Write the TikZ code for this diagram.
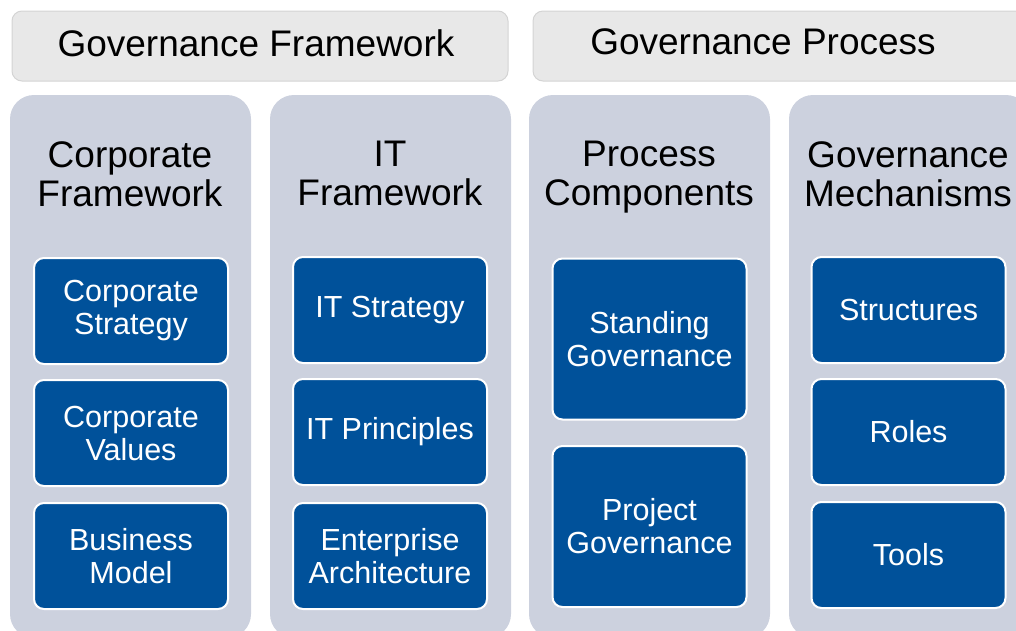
\documentclass[tikz,border=0pt]{standalone}
\usepackage{fontspec}
\setmainfont{Liberation Sans}
\definecolor{headgray}{HTML}{E8E8E8}
\definecolor{headline}{HTML}{D4D4D4}
\definecolor{colgray}{HTML}{CCD1DE}
\definecolor{itemblue}{HTML}{00519A}
\begin{document}
\begin{tikzpicture}[
				x=1pt,y=-1pt,
				headbox/.style={rectangle,rounded corners=10pt,draw=headline,fill=headgray,line width=1pt,minimum height=70pt},
				headlabel/.style={font=\fontsize{37}{40}\selectfont},
				colbox/.style={rectangle,rounded corners=24pt,fill=colgray,minimum width=241pt,minimum height=543pt},
				coltitle/.style={anchor=north,align=center,font=\fontsize{37}{39}\selectfont},
				itembox/.style={rectangle,rounded corners=10pt,draw=white,line width=2pt,fill=itemblue,text=white,
					minimum width=194pt,align=center,font=\fontsize{30.5}{33}\selectfont},
				small/.style={itembox,minimum height=106pt},
				tall/.style={itembox,minimum height=161pt},
				inner sep=0pt]
				\useasboundingbox (0,0) rectangle (1016,630);
				\clip (0,0) rectangle (1016,630);
				% header bars
				\node [headbox,minimum width=496pt]	(hfw)	at (260,46)		{};
					\node [headlabel]	(hfwlab)	at (256,43)		{Governance Framework};
				\node [headbox,minimum width=510pt]	(hpr)	at (788,46)		{};
					\node [headlabel]	(hprlab)	at (763,42)		{Governance Process};
				% columns
				\node [colbox]	(corp)	at (130.5,366.5)	{};
					\node [coltitle]	at (130,141)	{Corporate\\Framework};
				\node [colbox]	(it)	at (390.5,366.5)	{};
					\node [coltitle]	at (390,141)	{IT\\Framework};
				\node [colbox]	(proc)	at (649.5,366.5)	{};
					\node [coltitle]	at (649,141)	{Process\\Components};
				\node [colbox]	(mech)	at (909.5,366.5)	{};
					\node [coltitle]	at (908,141)	{Governance\\Mechanisms};
				% corporate framework
				\node [small]	(cstrat)	at (131,311)	{Corporate\\Strategy};
				\node [small]	(cval)		at (131,433)	{Corporate\\Values};
				\node [small]	(bmodel)	at (131,556)	{Business\\Model};
				% it framework
				\node [small]	(itstrat)	at (390,310)	{IT Strategy};
				\node [small]	(itprin)	at (390,432)	{IT Principles};
				\node [small]	(entarch)	at (390,556)	{Enterprise\\Architecture};
				% process components
				\node [tall]	(standgov)	at (649.5,339)	{Standing\\Governance};
				\node [tall]	(projgov)	at (649.5,526.5)	{Project\\Governance};
				% governance mechanisms
				\node [small]	(struct)	at (908.5,310)	{Structures};
				\node [small]	(roles)		at (908.5,432)	{Roles};
				\node [small]	(tools)		at (908.5,555)	{Tools};
\end{tikzpicture}
\end{document}
